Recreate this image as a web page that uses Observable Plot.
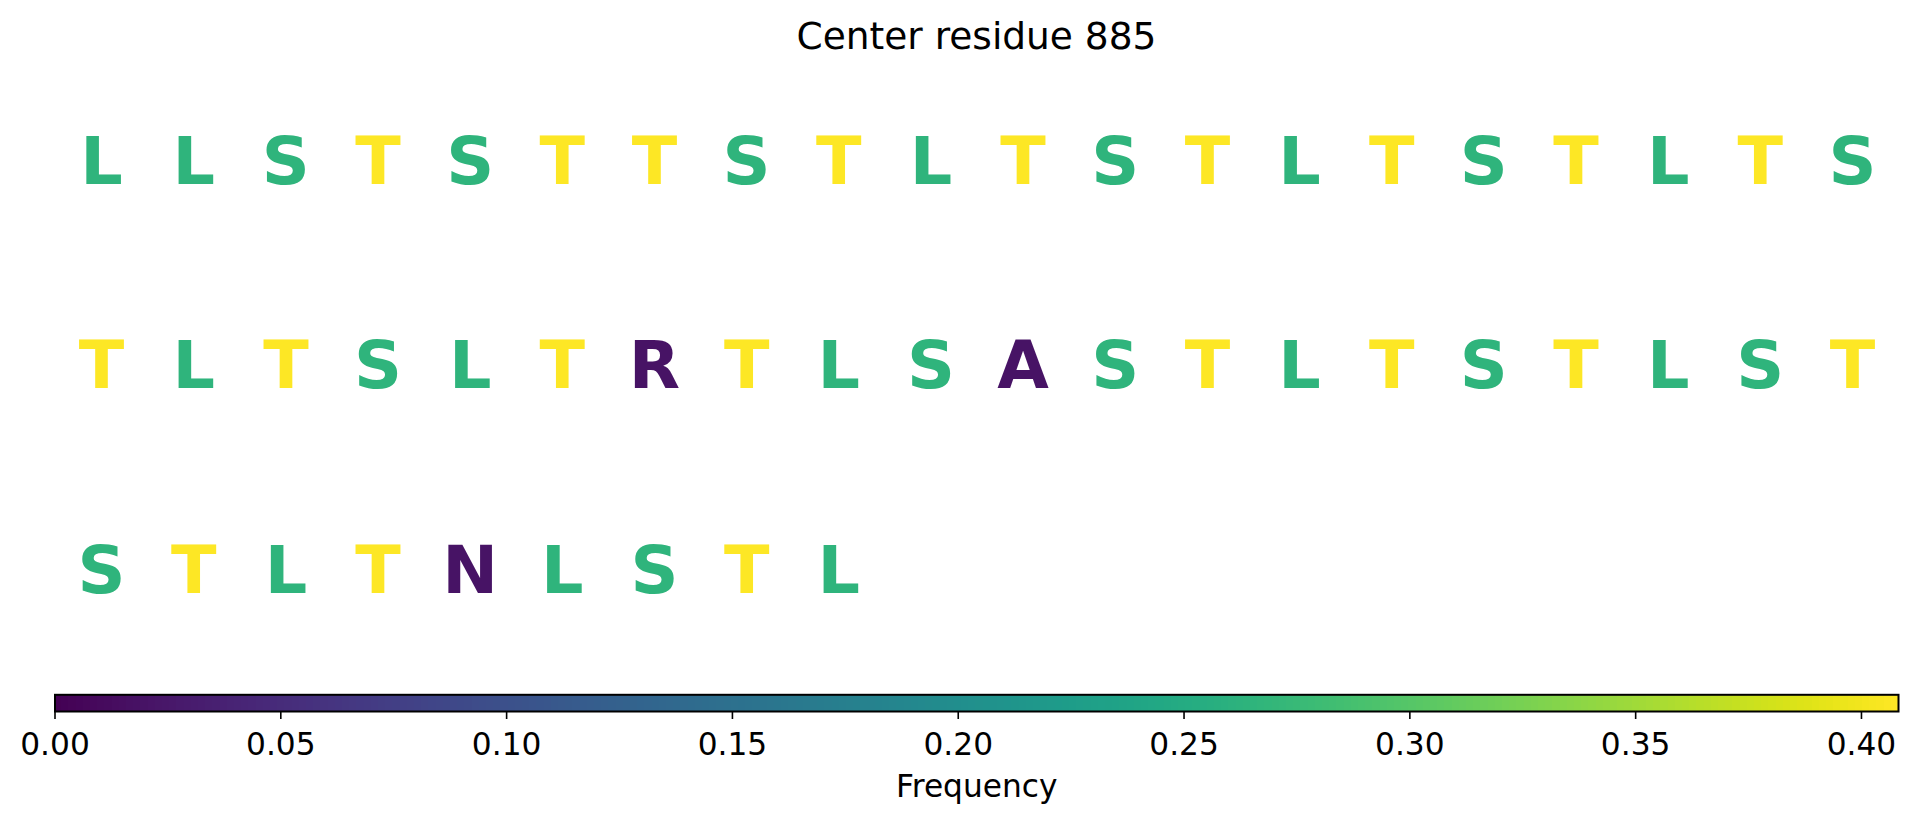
<!DOCTYPE html>
<html>
<head>
<meta charset="utf-8">
<script src="https://cdn.jsdelivr.net/npm/d3@7"></script>
<script src="https://cdn.jsdelivr.net/npm/@observablehq/plot@0.6"></script>
<style>
  html, body { margin: 0; padding: 0; background: white; }
  #wrap { position: relative; width: 1917px; height: 822px; background: white; overflow: hidden; }
  #title { position: absolute; left: 55px; width: 1843px; top: 18px; text-align: center;
           font-family: "DejaVu Sans", sans-serif; font-size: 37.5px; line-height: 1; color: black; }
  .layer { position: absolute; left: 0; }
</style>
</head>
<body>
<div id="wrap">
  <div id="title">Center residue 885</div>
  <div id="letters" class="layer" style="top:0px"></div>
  <div id="cbar" class="layer" style="top:660px"></div>
</div>
<script>
// Sequence window around center residue 885 (read row by row, 20 per row)
const residues = [
  "L","L","S","T","S","T","T","S","T","L","T","S","T","L","T","S","T","L","T","S",
  "T","L","T","S","L","T","R","T","L","S","A","S","T","L","T","S","T","L","S","T",
  "S","T","L","T","N","L","S","T","L"
];
// Frequency of each residue type in the window
const freqLetters = ["T", "L", "S", "R", "A", "N"];
const freqValues  = [0.4082, 0.2653, 0.2653, 0.0204, 0.0204, 0.0204];
// Colorbar
const colorMax = 0.4082;
const tickValues = [0.00, 0.05, 0.10, 0.15, 0.20, 0.25, 0.30, 0.35, 0.40];
const colorLabel = "Frequency";
const perRow = 20;

const freqOf = new Map(freqLetters.map((k, i) => [k, freqValues[i]]));
const cells = residues.map((r, i) => ({
  res: r,
  col: i % perRow + 0.5,
  row: Math.floor(i / perRow) + 0.5,
  freq: freqOf.get(r)
}));

const colorScale = {type: "linear", scheme: "viridis", domain: [0, colorMax]};

const letters = Plot.plot({
  width: 1917,
  height: 660,
  marginLeft: 0, marginRight: 0, marginTop: 0, marginBottom: 0,
  style: {background: "transparent", fontFamily: "DejaVu Sans"},
  x: {domain: [0, perRow], range: [55, 1898], axis: null},
  y: {domain: [0, 3], range: [57, 670.5], axis: null},
  color: colorScale,
  marks: [
    Plot.text(cells, {
      x: "col", y: "row", text: "res", fill: "freq",
      fontSize: 66.7, fontWeight: "bold", fontFamily: "DejaVu Sans",
      textAnchor: "middle", lineAnchor: "bottom", dy: 24.2
    })
  ]
});
document.getElementById("letters").appendChild(letters);

const N = 1843;
const stops = d3.range(N).map(i => ({
  x1: i / N * colorMax,
  x2: (i + 1) / N * colorMax,
  v: (i + 0.5) / N * colorMax
}));

const cbar = Plot.plot({
  width: 1917,
  height: 162,
  marginLeft: 54.5, marginRight: 19, marginTop: 34.3, marginBottom: 111,
  style: {background: "transparent", fontFamily: "DejaVu Sans", fontSize: "31.25px", color: "black"},
  x: {domain: [0, colorMax]},
  y: {domain: [0, 1], axis: null},
  color: colorScale,
  marks: [
    Plot.rect(stops, {x1: "x1", x2: "x2", y1: 0, y2: 1, fill: "v", insetLeft: -0.3, insetRight: -0.3, shapeRendering: "crispEdges"}),
    Plot.frame({stroke: "black", strokeWidth: 2}),
    Plot.axisX({
      anchor: "bottom", ticks: tickValues, tickFormat: d3.format(".2f"),
      tickSize: 8, tickPadding: 13.8, strokeWidth: 1.6,
      fontSize: 31.25, fontFamily: "DejaVu Sans", fill: "black", label: null
    }),
    Plot.text([colorLabel], {
      x: colorMax / 2, frameAnchor: "bottom", text: d => d,
      lineAnchor: "bottom", dy: 85, fontSize: 31.25, fontFamily: "DejaVu Sans", fill: "black"
    })
  ]
});
document.getElementById("cbar").appendChild(cbar);
</script>
</body>
</html>
